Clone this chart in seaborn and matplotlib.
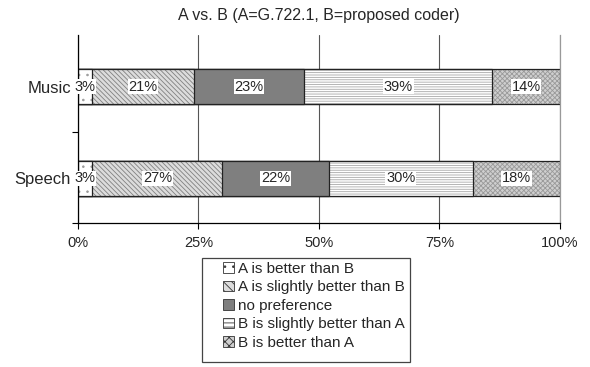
import matplotlib
matplotlib.use('Agg')
import matplotlib.pyplot as plt
import seaborn as sns
import pandas as pd
import numpy as np
from matplotlib.patches import Patch, Rectangle

# --- data ---
categories = ['Music', 'Speech']
series_names = ['A is better than B', 'A is slightly better than B', 'no preference',
                'B is slightly better than A', 'B is better than A']
a_better = [3, 3]
a_slight = [21, 27]
no_pref = [23, 22]
b_slight = [39, 30]
b_better = [14, 18]
x_ticks = [0, 25, 50, 75, 100]
x_tick_labels = ['0%', '25%', '50%', '75%', '100%']

values = np.array([a_better, a_slight, no_pref, b_slight, b_better])
cum = values.cumsum(axis=0)

# fill colour / hatch / hatch colour for each series (grayscale excel look)
styles = [
    dict(face='white', hatch='..', hc='#9a9a9a'),
    dict(face='#dcdcdc', hatch='\\\\\\\\\\\\\\', hc='#808080'),
    dict(face='#7f7f7f', hatch='', hc='#7f7f7f'),
    dict(face='white', hatch='-------', hc='#a8a8a8'),
    dict(face='#cfcfcf', hatch='xxxxxxx', hc='#999999'),
]

sns.set_style('white')
plt.rcParams['font.family'] = ['Liberation Sans', 'DejaVu Sans']
plt.rcParams['hatch.linewidth'] = 0.6

fig = plt.figure(figsize=(5.9, 3.67), dpi=100)
ax = fig.add_axes([0.132, 0.392, 0.817, 0.513])

bar_h = 0.38
# stacked look: draw cumulative totals from the longest down, each covers the previous
for k in range(len(values) - 1, -1, -1):
    st = styles[k]
    df = pd.DataFrame({'cat': categories, 'val': cum[k]})
    plt.rcParams['hatch.color'] = st['hc']
    sns.barplot(data=df, x='val', y='cat', orient='h', width=bar_h,
                color=st['face'], saturation=1, edgecolor=st['hc'], linewidth=0,
                hatch=st['hatch'], ax=ax, zorder=2)
    sns.barplot(data=df, x='val', y='cat', orient='h', width=bar_h,
                facecolor='none', edgecolor='#222222', linewidth=0.9, ax=ax, zorder=2)

for k in range(len(values)):
    for i in range(len(categories)):
        v = values[k, i]
        ax.text(cum[k, i] - v / 2, i, f'{v}%', ha='center', va='center', fontsize=10.5,
                zorder=5, bbox=dict(boxstyle='square,pad=0.05', fc='white', ec='none'))

ax.set_xlim(0, 100)
ax.set_ylim(1.49, -0.565)
ax.set_xticks(x_ticks)
ax.set_xticklabels(x_tick_labels, fontsize=10.5)
ax.set_yticks([0, 1])
ax.set_yticklabels(categories, fontsize=12)
ax.set_yticks([0.5, 1.49], minor=True)
ax.tick_params(axis='y', which='major', length=0, pad=5)
ax.tick_params(axis='y', which='minor', length=4, direction='out', color='black', width=0.8, left=True)
ax.tick_params(axis='x', length=4, direction='out', color='black', width=0.8, pad=5, bottom=True)
ax.set_xlabel('')
ax.set_ylabel('')

# vertical gridlines
ax.xaxis.grid(True, color='#555555', linewidth=0.8, zorder=0)
ax.set_axisbelow(True)
ax.spines['top'].set_visible(False)
ax.spines['right'].set_color('#999999')
ax.spines['left'].set_color('black')
ax.spines['bottom'].set_color('black')
for s in ['left', 'bottom', 'right']:
    ax.spines[s].set_linewidth(0.9)

ax.set_title('A vs. B (A=G.722.1, B=proposed coder)', fontsize=11.5, pad=11)

# legend (frameless) + a plain box drawn around it, excel style
handles = []
for st, name in zip(styles, series_names):
    handles.append(Patch(facecolor=st['face'], hatch=st['hatch'][:4],
                         edgecolor='#333333', linewidth=0.6, label=name))
leg = fig.legend(handles=handles, loc='upper left', bbox_to_anchor=(0.378, 0.287),
                 frameon=False, fontsize=11,
                 handlelength=0.7, handleheight=0.7, handletextpad=0.25,
                 labelspacing=0.3, borderpad=0, borderaxespad=0)
fig.add_artist(Rectangle((202 / 590, 1 - 362 / 367), 208 / 590, 104 / 367,
                         transform=fig.transFigure, fill=False,
                         edgecolor='#444444', linewidth=0.9))

fig.savefig('out.png', dpi=100)
